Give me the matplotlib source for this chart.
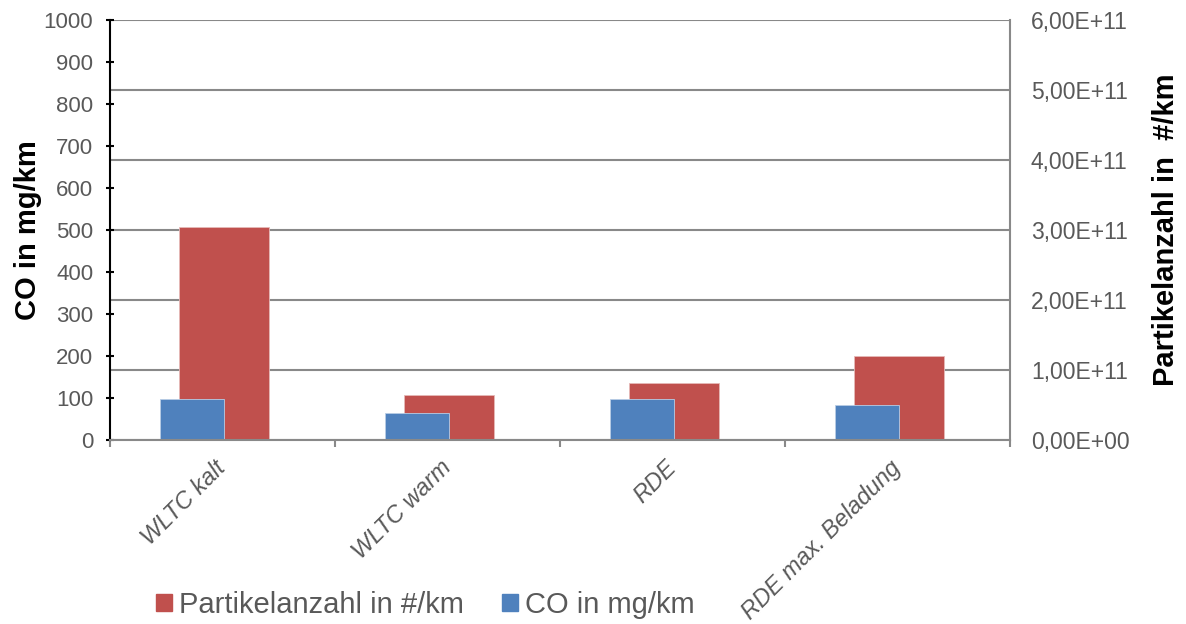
import numpy as np
import matplotlib
matplotlib.use('Agg')
import matplotlib.pyplot as plt
from matplotlib.ticker import FuncFormatter
from matplotlib.patches import Patch

plt.rcParams['font.family'] = ['Liberation Sans', 'DejaVu Sans']

# --- Daten ---
categories = ['WLTC kalt', 'WLTC warm', 'RDE', 'RDE max. Beladung']
co_mg_km = [98, 64, 98, 83]
partikel_km = [3.04e11, 6.4e10, 8.1e10, 1.2e11]

RED = '#C0504D'
BLUE = '#4F81BD'
GRID = '#898989'
TXT = '#595959'

fig = plt.figure(figsize=(11.86, 6.24), dpi=100)
ax = fig.add_axes([0.0927, 0.295, 0.759, 0.673])
ax2 = ax.twinx()

x = np.arange(len(categories))

# rot: Partikelanzahl (rechte Achse), blau: CO (linke Achse, davor)
ax2.bar(x + 0.007, partikel_km, width=0.4, color=RED, edgecolor='#E6B9B8', linewidth=0.6)
ax.bar(x - 0.136, co_mg_km, width=0.284, color=BLUE, edgecolor='#B9CDE5', linewidth=0.6)

ax.set_zorder(ax2.get_zorder() + 1)
ax.patch.set_visible(False)

ax.set_xlim(-0.5, len(categories) - 0.5)
ax.set_ylim(0, 1000)
ax2.set_ylim(0, 6e11)
ax.set_yticks(np.arange(0, 1001, 100))
ax2.set_yticks(np.arange(0, 6.01e11, 1e11))
ax2.yaxis.set_major_formatter(FuncFormatter(lambda v, p: f'{v:.2E}'.replace('.', ',')))

# Gitter an der rechten Achse
ax2.set_axisbelow(True)
ax2.grid(axis='y', color=GRID, linewidth=1.5)

# Kategorie-Ticks an den Grenzen
ax.set_xticks(np.arange(-0.5, len(categories)))
ax.set_xticklabels([])
ax.tick_params(axis='x', length=5, width=1.5, color=GRID, direction='out')
for i, c in enumerate(categories):
    ax.text(i, -0.058, c, transform=ax.get_xaxis_transform(), rotation=45,
            rotation_mode='anchor', ha='right', va='center', fontsize=17,
            color=TXT, fontstyle='italic')

ax.tick_params(axis='y', length=6, width=1.5, color='black', direction='inout',
               labelsize=16, labelcolor=TXT, pad=9)
ax2.tick_params(axis='y', length=0, labelsize=16.5, labelcolor=TXT, pad=15)

for a in (ax, ax2):
    a.spines['top'].set_visible(False)
ax.spines['left'].set_color('black')
ax.spines['left'].set_linewidth(1.5)
ax.spines['right'].set_visible(False)
ax2.spines['left'].set_visible(False)
ax2.spines['right'].set_color(GRID)
ax2.spines['right'].set_linewidth(1.5)
ax.spines['bottom'].set_color(GRID)
ax.spines['bottom'].set_linewidth(1.5)
ax2.spines['bottom'].set_visible(False)

ax.set_ylabel('CO in mg/km', fontsize=21, fontweight='bold', color='black')
ax.yaxis.set_label_coords(-0.075, 0.5)
ax2.set_ylabel('Partikelanzahl in  #/km', fontsize=21, fontweight='bold', color='black')
ax2.yaxis.set_label_coords(1.158, 0.5)

# Legende
handles = [Patch(color=RED, label='Partikelanzahl in #/km'),
           Patch(color=BLUE, label='CO in mg/km')]
fig.legend(handles=handles, loc='center left', bbox_to_anchor=(0.1315, 0.031),
           ncol=2, frameon=False, fontsize=21, labelcolor=TXT,
           borderaxespad=0, borderpad=0,
           handlelength=0.55, handleheight=0.5, handletextpad=0.25, columnspacing=1.3)

fig.savefig('out.png', dpi=100)
